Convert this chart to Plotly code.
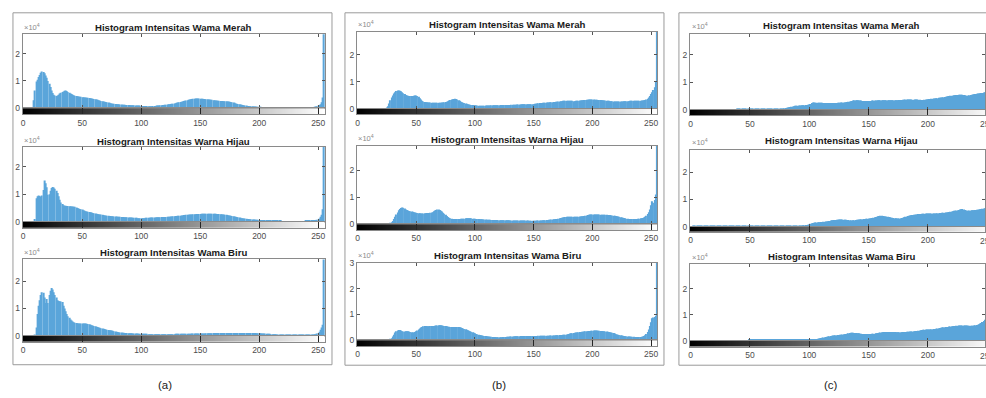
import plotly.graph_objects as go

W, H = 986, 398

# ---------------- data (units: 100 pixel counts per intensity level) -------------
bins = list(range(256))
x_ticks = [0, 50, 100, 150, 200, 250]
x_ticktext = ["0", "50", "100", "150", "200", "250"]

titles = ["Histogram Intensitas Wama Merah",
          "Histogram Intensitas Warna Hijau",
          "Histogram Intensitas Wama Biru"]
panel_labels = ["(a)", "(b)", "(c)"]

a_merah = [
    0, 0, 0, 0, 0, 0, 0, 0, 5, 30, 65, 98, 105, 115, 122, 130,
    135, 133, 128, 120, 112, 100, 90, 78, 65, 56, 50, 47, 45, 47, 50, 54,
    57, 60, 62, 64, 65, 63, 60, 57, 54, 52, 50, 48, 46, 45, 44, 43,
    42, 42, 41, 41, 40, 40, 39, 39, 38, 37, 36, 35, 34, 33, 32, 31,
    30, 29, 27, 26, 25, 24, 23, 22, 21, 20, 19, 18, 17, 17, 16, 16,
    15, 15, 14, 14, 13, 13, 13, 12, 12, 12, 12, 11, 11, 11, 11, 10,
    10, 10, 10, 10, 9, 9, 9, 9, 9, 9, 8, 8, 8, 8, 9, 9,
    9, 10, 10, 10, 11, 11, 12, 12, 13, 13, 14, 15, 15, 16, 17, 17,
    18, 19, 20, 21, 22, 23, 24, 25, 27, 28, 29, 30, 31, 32, 33, 34,
    35, 35, 36, 36, 36, 36, 35, 35, 35, 34, 34, 33, 33, 32, 32, 31,
    31, 30, 30, 29, 29, 28, 28, 27, 27, 27, 26, 26, 26, 25, 25, 24,
    23, 22, 21, 20, 18, 17, 16, 15, 14, 13, 12, 11, 10, 10, 9, 9,
    8, 8, 8, 7, 7, 7, 6, 6, 6, 6, 5, 5, 5, 5, 4, 4,
    4, 4, 4, 3, 3, 3, 3, 3, 3, 3, 2, 2, 2, 2, 2, 2,
    2, 2, 2, 2, 2, 2, 2, 2, 2, 2, 2, 2, 2, 2, 2, 3,
    3, 3, 3, 3, 4, 4, 5, 6, 7, 8, 10, 12, 15, 22, 40, 400,
]
a_hijau = [
    0, 0, 0, 0, 0, 0, 0, 0, 0, 0, 10, 85, 92, 95, 93, 90,
    95, 115, 150, 140, 125, 98, 100, 112, 122, 126, 124, 120, 112, 104, 92, 80,
    70, 64, 60, 58, 58, 57, 57, 56, 56, 55, 55, 54, 54, 52, 50, 48,
    46, 45, 44, 42, 40, 38, 37, 36, 35, 34, 33, 32, 31, 30, 29, 28,
    27, 26, 26, 25, 24, 23, 23, 22, 22, 21, 21, 20, 20, 19, 19, 19,
    18, 18, 18, 17, 17, 17, 16, 16, 16, 15, 15, 15, 15, 14, 14, 14,
    14, 13, 13, 13, 13, 13, 13, 13, 14, 14, 14, 14, 15, 15, 15, 15,
    15, 16, 16, 16, 16, 17, 17, 17, 17, 17, 18, 18, 18, 19, 19, 20,
    20, 21, 21, 22, 22, 22, 23, 23, 24, 24, 25, 25, 25, 26, 26, 26,
    27, 27, 27, 28, 28, 28, 28, 29, 29, 29, 29, 29, 29, 29, 29, 29,
    29, 29, 29, 29, 28, 28, 28, 27, 27, 26, 26, 25, 25, 24, 23, 23,
    22, 21, 20, 19, 18, 17, 16, 15, 14, 13, 13, 12, 12, 11, 10, 10,
    9, 9, 8, 8, 8, 7, 7, 7, 6, 6, 6, 5, 5, 5, 5, 4,
    4, 4, 4, 4, 3, 3, 3, 3, 3, 3, 3, 2, 2, 2, 2, 2,
    2, 2, 2, 2, 2, 2, 2, 2, 2, 2, 2, 2, 2, 2, 2, 3,
    3, 3, 3, 3, 3, 4, 4, 5, 6, 7, 9, 12, 18, 25, 45, 400,
]
a_biru = [
    0, 0, 0, 0, 0, 0, 0, 0, 0, 0, 5, 30, 80, 110, 130, 150,
    160, 158, 140, 120, 135, 120, 150, 165, 175, 170, 160, 150, 140, 130, 128, 127,
    126, 124, 110, 100, 90, 80, 72, 66, 60, 56, 52, 50, 48, 47, 46, 45,
    45, 45, 45, 45, 45, 45, 44, 43, 42, 40, 39, 38, 36, 35, 33, 32,
    30, 29, 28, 27, 26, 25, 23, 22, 21, 20, 20, 19, 18, 17, 16, 15,
    14, 13, 12, 12, 11, 11, 10, 10, 10, 9, 9, 9, 9, 8, 8, 8,
    8, 8, 7, 7, 7, 7, 7, 7, 7, 7, 6, 6, 6, 6, 6, 6,
    6, 6, 6, 6, 6, 6, 6, 6, 6, 6, 6, 6, 6, 6, 6, 6,
    6, 7, 7, 7, 7, 7, 7, 7, 7, 7, 7, 7, 7, 7, 7, 8,
    8, 8, 8, 8, 8, 8, 8, 8, 8, 8, 8, 9, 9, 9, 9, 9,
    9, 10, 10, 10, 10, 10, 10, 10, 10, 10, 10, 10, 10, 10, 10, 10,
    10, 10, 10, 10, 10, 10, 10, 10, 10, 10, 10, 10, 10, 10, 10, 10,
    10, 10, 10, 10, 10, 10, 9, 9, 9, 9, 8, 8, 8, 8, 7, 7,
    7, 7, 6, 6, 6, 6, 6, 5, 5, 5, 5, 5, 5, 5, 5, 5,
    5, 4, 4, 4, 4, 4, 4, 4, 4, 4, 4, 4, 4, 4, 4, 4,
    4, 4, 4, 4, 5, 5, 5, 6, 6, 8, 10, 15, 22, 30, 40, 400,
]
b_merah = [
    0, 0, 0, 0, 0, 0, 0, 0, 0, 0, 0, 0, 0, 0, 0, 0,
    0, 0, 0, 0, 0, 0, 0, 0, 0, 2, 10, 20, 32, 42, 50, 57,
    62, 66, 68, 68, 67, 65, 62, 58, 55, 52, 50, 49, 48, 48, 48, 48,
    49, 50, 50, 48, 45, 40, 35, 30, 28, 26, 25, 25, 24, 24, 24, 23,
    23, 23, 23, 23, 23, 23, 23, 23, 24, 24, 25, 26, 27, 29, 31, 33,
    35, 36, 37, 38, 37, 35, 32, 30, 27, 25, 23, 22, 20, 19, 18, 17,
    16, 15, 15, 14, 14, 13, 13, 12, 12, 12, 12, 12, 12, 13, 13, 13,
    13, 13, 14, 14, 14, 14, 14, 14, 14, 14, 15, 15, 15, 15, 15, 15,
    15, 15, 15, 16, 16, 16, 16, 16, 17, 17, 17, 17, 18, 18, 18, 18,
    18, 18, 18, 18, 18, 18, 18, 19, 19, 20, 21, 22, 22, 22, 23, 23,
    23, 24, 24, 24, 25, 25, 25, 26, 26, 27, 27, 28, 28, 29, 29, 30,
    30, 30, 30, 30, 30, 30, 30, 30, 29, 29, 30, 30, 30, 31, 31, 32,
    32, 33, 33, 34, 34, 35, 35, 35, 35, 35, 34, 34, 34, 33, 33, 33,
    32, 32, 31, 31, 30, 30, 30, 29, 29, 29, 28, 28, 28, 28, 28, 28,
    28, 28, 28, 29, 29, 29, 29, 29, 30, 30, 30, 30, 30, 30, 30, 30,
    30, 30, 31, 31, 32, 33, 35, 38, 42, 48, 55, 62, 70, 80, 100, 400,
]
b_hijau = [
    0, 0, 0, 0, 0, 0, 0, 0, 0, 0, 0, 0, 0, 0, 0, 0,
    0, 0, 0, 0, 0, 0, 0, 0, 0, 0, 0, 0, 3, 8, 12, 20,
    28, 36, 44, 52, 57, 60, 62, 61, 58, 55, 53, 51, 49, 48, 47, 46,
    45, 44, 43, 42, 41, 41, 40, 40, 40, 41, 41, 42, 42, 42, 43, 44,
    45, 48, 51, 53, 55, 55, 53, 50, 47, 43, 39, 35, 31, 27, 24, 22,
    21, 20, 20, 20, 20, 20, 20, 20, 21, 21, 21, 21, 22, 22, 22, 22,
    22, 22, 21, 21, 21, 20, 20, 20, 19, 19, 19, 18, 18, 18, 17, 17,
    17, 17, 16, 16, 16, 16, 16, 16, 15, 15, 15, 15, 15, 15, 15, 15,
    15, 15, 14, 14, 14, 14, 14, 14, 14, 14, 14, 14, 14, 14, 14, 14,
    14, 14, 13, 13, 13, 13, 13, 13, 13, 14, 14, 14, 14, 14, 15, 15,
    15, 16, 16, 17, 17, 18, 18, 19, 19, 20, 20, 21, 22, 23, 24, 25,
    26, 27, 28, 28, 28, 28, 28, 28, 28, 28, 28, 28, 28, 29, 29, 30,
    30, 31, 32, 33, 34, 35, 36, 36, 36, 36, 36, 36, 36, 36, 36, 35,
    35, 35, 35, 35, 35, 34, 34, 34, 33, 33, 32, 32, 31, 30, 29, 28,
    26, 25, 24, 23, 22, 21, 21, 20, 20, 20, 20, 20, 20, 20, 20, 21,
    21, 22, 22, 23, 25, 28, 32, 38, 45, 55, 70, 85, 80, 90, 110, 400,
]
b_biru = [
    0, 0, 0, 0, 0, 0, 0, 0, 0, 0, 0, 0, 0, 0, 0, 0,
    0, 0, 0, 0, 0, 0, 0, 0, 0, 0, 0, 0, 3, 8, 15, 22,
    30, 35, 38, 40, 40, 38, 35, 34, 34, 35, 35, 35, 34, 32, 31, 30,
    30, 32, 35, 38, 42, 46, 50, 52, 54, 55, 55, 54, 54, 54, 55, 55,
    55, 55, 56, 57, 57, 58, 58, 58, 57, 56, 55, 55, 54, 53, 53, 52,
    52, 52, 52, 52, 52, 52, 52, 51, 50, 48, 46, 44, 43, 41, 39, 37,
    35, 33, 31, 29, 27, 25, 24, 22, 21, 20, 19, 18, 17, 17, 16, 15,
    15, 14, 14, 13, 13, 13, 12, 12, 12, 12, 12, 12, 13, 13, 13, 14,
    14, 14, 15, 15, 15, 15, 16, 16, 16, 16, 16, 17, 17, 17, 17, 17,
    17, 17, 17, 17, 17, 17, 17, 17, 17, 17, 18, 18, 18, 18, 18, 18,
    18, 18, 18, 18, 19, 19, 19, 19, 19, 20, 20, 20, 21, 21, 21, 22,
    22, 22, 23, 24, 25, 26, 27, 27, 28, 29, 30, 30, 31, 32, 32, 33,
    33, 34, 35, 35, 35, 36, 36, 37, 37, 38, 38, 38, 38, 37, 37, 36,
    36, 35, 35, 34, 34, 33, 32, 31, 30, 29, 28, 26, 24, 23, 22, 21,
    20, 19, 18, 17, 16, 16, 15, 15, 15, 14, 14, 14, 13, 13, 13, 13,
    13, 13, 14, 15, 17, 20, 25, 32, 42, 55, 70, 85, 88, 90, 95, 400,
]
c_merah = [
    0, 0, 0, 0, 1, 1, 1, 1, 1, 1, 1, 1, 1, 1, 1, 1,
    1, 1, 1, 1, 1, 1, 1, 1, 1, 1, 1, 1, 1, 1, 1, 1,
    1, 1, 1, 1, 1, 1, 1, 2, 2, 2, 2, 2, 2, 2, 2, 2,
    2, 2, 2, 2, 2, 2, 2, 2, 2, 2, 2, 2, 2, 2, 2, 2,
    2, 2, 2, 2, 2, 2, 3, 3, 3, 3, 4, 4, 4, 5, 5, 6,
    7, 8, 9, 10, 11, 12, 13, 14, 15, 15, 15, 16, 16, 16, 17, 17,
    17, 18, 18, 19, 20, 22, 25, 27, 27, 26, 26, 26, 26, 26, 26, 26,
    25, 25, 25, 25, 25, 25, 25, 25, 25, 25, 25, 25, 26, 26, 26, 27,
    27, 27, 27, 28, 29, 30, 31, 32, 33, 34, 35, 35, 35, 35, 34, 34,
    34, 33, 33, 33, 33, 33, 33, 33, 33, 34, 34, 34, 34, 34, 35, 35,
    35, 35, 35, 35, 35, 35, 35, 35, 35, 35, 35, 35, 35, 35, 35, 35,
    36, 36, 36, 37, 37, 38, 38, 38, 38, 38, 38, 37, 37, 38, 38, 38,
    37, 37, 36, 36, 36, 37, 38, 38, 39, 40, 40, 41, 41, 42, 42, 43,
    43, 44, 44, 45, 45, 46, 47, 48, 49, 50, 51, 52, 52, 52, 53, 53,
    54, 54, 55, 55, 55, 55, 54, 53, 52, 52, 52, 53, 54, 55, 56, 57,
    58, 59, 60, 60, 61, 62, 62, 63, 64, 65, 66, 67, 68, 69, 70, 90,
]
c_hijau = [
    0, 0, 1, 1, 1, 1, 2, 2, 2, 2, 2, 2, 2, 2, 2, 2,
    2, 2, 2, 2, 2, 2, 2, 2, 2, 2, 2, 2, 2, 2, 3, 3,
    3, 3, 3, 3, 3, 3, 3, 3, 3, 3, 3, 3, 3, 3, 3, 3,
    3, 3, 4, 3, 3, 3, 3, 3, 3, 3, 3, 3, 3, 3, 3, 3,
    3, 3, 3, 3, 3, 2, 2, 2, 2, 2, 2, 2, 2, 2, 2, 2,
    2, 2, 2, 2, 2, 2, 2, 2, 2, 3, 3, 3, 3, 3, 4, 5,
    5, 6, 6, 7, 8, 10, 12, 13, 14, 15, 15, 16, 16, 16, 17, 17,
    18, 18, 19, 19, 20, 21, 22, 23, 23, 24, 24, 25, 25, 26, 26, 26,
    26, 25, 25, 25, 24, 24, 23, 22, 22, 23, 23, 24, 25, 25, 26, 26,
    27, 27, 28, 28, 29, 29, 30, 30, 31, 32, 33, 34, 35, 36, 38, 39,
    40, 40, 39, 38, 37, 37, 36, 35, 34, 33, 33, 32, 31, 31, 30, 30,
    30, 31, 32, 33, 34, 36, 37, 39, 40, 41, 42, 43, 44, 44, 45, 45,
    46, 46, 46, 47, 47, 47, 48, 48, 48, 48, 48, 48, 48, 48, 48, 48,
    49, 49, 50, 50, 51, 51, 51, 52, 52, 53, 54, 55, 56, 57, 58, 58,
    59, 60, 61, 63, 64, 65, 63, 61, 59, 58, 58, 59, 59, 60, 60, 60,
    61, 62, 62, 63, 64, 65, 66, 67, 68, 69, 70, 71, 72, 73, 75, 95,
]
c_biru = [
    0, 0, 0, 0, 0, 0, 0, 0, 0, 0, 1, 1, 1, 1, 1, 1,
    1, 1, 1, 2, 2, 2, 2, 2, 2, 2, 2, 2, 2, 2, 2, 2,
    2, 2, 2, 2, 2, 2, 2, 2, 2, 2, 2, 2, 2, 2, 2, 2,
    2, 3, 3, 3, 3, 3, 3, 3, 3, 3, 3, 3, 3, 3, 3, 3,
    3, 3, 3, 3, 3, 3, 3, 3, 3, 3, 4, 4, 4, 4, 4, 4,
    4, 4, 4, 4, 4, 4, 4, 4, 4, 4, 4, 4, 4, 4, 4, 4,
    4, 4, 5, 5, 5, 5, 5, 5, 6, 6, 6, 7, 8, 9, 10, 11,
    12, 13, 14, 15, 16, 17, 18, 19, 20, 20, 21, 21, 22, 22, 23, 23,
    24, 25, 25, 26, 27, 28, 29, 30, 30, 30, 29, 29, 28, 28, 28, 27,
    27, 26, 26, 26, 26, 26, 26, 26, 26, 27, 27, 27, 28, 28, 29, 30,
    31, 32, 32, 33, 33, 33, 33, 33, 33, 33, 33, 33, 33, 32, 32, 32,
    32, 32, 32, 33, 33, 33, 34, 34, 34, 35, 35, 35, 36, 36, 37, 37,
    38, 39, 40, 41, 42, 42, 43, 43, 43, 43, 43, 44, 44, 45, 45, 46,
    47, 48, 49, 50, 51, 52, 52, 53, 53, 53, 54, 54, 55, 55, 56, 56,
    57, 57, 58, 58, 58, 58, 58, 58, 58, 58, 57, 57, 57, 57, 57, 58,
    59, 60, 61, 63, 66, 68, 72, 76, 80, 84, 88, 92, 95, 98, 100, 120,
]

series = [[a_merah, a_hijau, a_biru],
          [b_merah, b_hijau, b_biru],
          [c_merah, c_hijau, c_biru]]
for grp in series:
    for s in grp:
        assert len(s) == 256, len(s)

# ---------------- layout geometry (pixels) ----------------
panels = [
    dict(xl=20.7, xr=324.3, xrange=[-0.5, 256.0], frame=(11, 8, 331, 369), label=(163, 390)),
    dict(xl=356.0, xr=657.3, xrange=[-0.5, 255.3], frame=(344, 8, 664, 369.5), label=(499, 389.5)),
    dict(xl=690.1, xr=986.0, xrange=[-0.5, 248.1], frame=(679, 8, 1010, 369.5), label=(831.7, 389.5),
         title_cx=842.5, cut_tick_px=987.7),
]
# per panel rows: (axes top, baseline, colorbar bottom, ymax in 1e4, title center y)
rows_geom = [
    [(30.0, 106.0, 112.3, 2.71, 22.7), (145.7, 222.3, 228.8, 2.71, 140.0), (261.0, 339.3, 345.5, 2.80, 254.3)],
    [(27.3, 106.7, 112.3, 2.85, 20.0), (144.3, 225.0, 231.0, 2.90, 138.3), (264.3, 344.0, 350.0, 3.00, 257.3)],
    [(29.3, 107.7, 113.3, 2.77, 20.7), (148.3, 227.3, 232.8, 2.84, 139.0), (265.7, 344.3, 350.5, 2.95, 257.7)],
]

FONT = "Liberation Sans, Arial, Helvetica, sans-serif"
BAR = "#5AA5DA"
AXC = "#8a8a8a"
TXT = "#4d4d4d"


def fx(px):
    return px / W


def fy(py):
    return 1 - py / H


def axn(k, i):
    return f"{k}axis" if i == 1 else f"{k}axis{i}"


def ref(k, i):
    return k if i == 1 else f"{k}{i}"


fig = go.Figure()
layout = {}
annotations = []
shapes = []

gray_scale = [[0, "#000000"], [1, "#ffffff"]]

n_hist = 9
i = 0
for pi, (p, grp) in enumerate(zip(panels, series)):
    for ri, data in enumerate(grp):
        i += 1
        j = i + n_hist
        top, base, cbb, ymax, ty = rows_geom[pi][ri]
        counts = [v * 100 for v in data]

        fig.add_trace(go.Bar(
            x=bins, y=counts, xaxis=ref("x", i), yaxis=ref("y", i),
            marker=dict(color=BAR, line=dict(width=0)),
            showlegend=False, hoverinfo="skip"))

        fig.add_trace(go.Heatmap(
            z=[bins], x=bins, y=[0], xaxis=ref("x", j), yaxis=ref("y", j),
            colorscale=gray_scale, zmin=0, zmax=255, showscale=False, hoverinfo="skip"))

        xdom = [fx(p["xl"]), min(1.0, fx(p["xr"]))]
        yt = [0, 10000, 20000] + ([30000] if ymax >= 2.99 else [])
        ytt = [str(int(v / 10000)) for v in yt]

        layout[axn("x", i)] = dict(
            domain=xdom, anchor=ref("y", i), range=p["xrange"],
            tickvals=x_ticks, showticklabels=False, ticks="inside", ticklen=3,
            tickcolor="#555", showline=True, linecolor=AXC, linewidth=1,
            mirror="ticks", showgrid=False, zeroline=False, fixedrange=True)
        layout[axn("y", i)] = dict(
            domain=[fy(base), fy(top)], anchor=ref("x", i), range=[0, ymax * 10000],
            tickvals=yt, ticktext=ytt, ticks="inside", ticklen=3, tickcolor="#555",
            showline=True, linecolor=AXC, linewidth=1, mirror="ticks",
            showgrid=False, zeroline=False, tickfont=dict(size=8.5, color=TXT, family=FONT),
            fixedrange=True)

        layout[axn("x", j)] = dict(
            domain=xdom, anchor=ref("y", j), range=p["xrange"],
            tickvals=x_ticks, ticktext=x_ticktext, ticks="inside",
            ticklen=max(1, int(round(cbb - base))), tickcolor="#262626", tickwidth=1,
            showline=True, linecolor=AXC, linewidth=1, mirror=True,
            showgrid=False, zeroline=False, tickfont=dict(size=8.5, color=TXT, family=FONT),
            fixedrange=True)
        layout[axn("y", j)] = dict(
            domain=[fy(cbb), fy(base)], anchor=ref("x", j), range=[-0.5, 0.5],
            showticklabels=False, ticks="", showline=True, linecolor=AXC, linewidth=1,
            mirror=True, showgrid=False, zeroline=False, fixedrange=True)

        cx = p.get("title_cx", (p["xl"] + p["xr"]) / 2)
        annotations.append(dict(
            text=f"<b>{titles[ri]}</b>", x=fx(cx), y=fy(ty), xref="paper", yref="paper",
            xanchor="center", yanchor="middle", showarrow=False,
            font=dict(size=9.6, color="#1a1a1a", family=FONT)))
        annotations.append(dict(
            text="×10<sup>4</sup>", x=fx(p["xl"] - 0.5), y=fy(top - 0.5), xref="paper", yref="paper",
            xanchor="left", yanchor="bottom", showarrow=False,
            font=dict(size=7.5, color="#8a8a8a", family=FONT)))

        # last tick label of the cut-off panel, partly outside the window
        if "cut_tick_px" in p:
            annotations.append(dict(
                text=x_ticktext[-1], x=fx(p["cut_tick_px"]), y=fy(cbb + 2), xref="paper",
                yref="paper", xanchor="center", yanchor="top", showarrow=False,
                font=dict(size=8.5, color=TXT, family=FONT)))

    fx0, fy0, fx1, fy1 = p["frame"]
    shapes.append(dict(type="rect", xref="paper", yref="paper",
                       x0=fx(fx0), x1=fx(fx1), y0=fy(fy1), y1=fy(fy0),
                       line=dict(color="#9a9a9a", width=1), fillcolor="rgba(0,0,0,0)"))
    lx, ly = p["label"]
    annotations.append(dict(
        text=panel_labels[pi], x=fx(lx), y=fy(ly), xref="paper", yref="paper",
        xanchor="center", yanchor="middle", showarrow=False,
        font=dict(size=11.5, color="#222222", family=FONT)))

fig.update_layout(
    width=W, height=H, autosize=False,
    margin=dict(l=0, r=0, t=0, b=0, pad=0),
    paper_bgcolor="white", plot_bgcolor="white",
    bargap=0.12, showlegend=False,
    annotations=annotations, shapes=shapes,
    font=dict(family=FONT),
    **layout)

fig.write_html(
    "out.html",
    config={"displayModeBar": False, "responsive": False},
    post_script="document.body.style.margin='0';document.body.style.padding='0';"
                "document.body.style.overflow='hidden';",
)
